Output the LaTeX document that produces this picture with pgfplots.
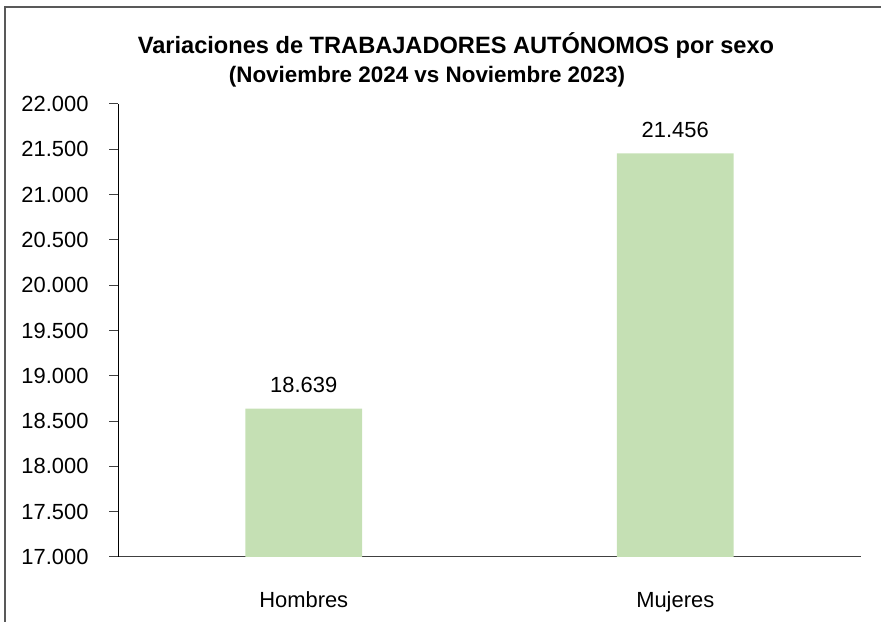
\documentclass[border=0pt]{standalone}
\usepackage{pgfplots}
\pgfplotsset{compat=1.18}
\usepackage{fontspec}
\setmainfont{Liberation Sans}
\definecolor{barg}{HTML}{C5E0B4}
\begin{document}
\begin{tikzpicture}[x=1bp,y=1bp]
\begin{axis}[
  at={(118bp,65bp)}, anchor=south west,
  scale only axis, width=743bp, height=453bp,
  xmin=-0.5, xmax=1.5, ymin=17000, ymax=22000,
  ytick={17000,17500,...,22000},
  xtick={0,1}, xticklabels={Hombres,Mujeres},
  axis x line*=bottom, axis y line*=left,
  axis line style={draw=black!75, line width=1bp},
  y axis line style={draw=black, line width=1bp},
  tick align=outside, major tick length=9bp,
  xtick style={draw=none},
  ytick style={draw=black!75, line width=1bp},
  scaled y ticks=false,
  /pgf/number format/assume math mode=true,
  yticklabel={\pgfmathprintnumber[fixed,precision=0,1000 sep={.}]{\tick}},
  yticklabel style={font=\fontsize{22}{26}\selectfont, xshift=-17bp},
  xticklabel style={font=\fontsize{22}{26}\selectfont, anchor=base, yshift=-42bp},
  ybar, bar width=116.7bp,
  nodes near coords={\pgfmathprintnumber[fixed,precision=0,1000 sep={.}]{\pgfplotspointmeta}},
  every node near coord/.append style={font=\fontsize{22}{26}\selectfont, anchor=base, yshift=16bp, text=black},
]
\addplot[fill=barg, draw=none] coordinates {(0,18639) (1,21456)};
\end{axis}
\node[anchor=base, font=\bfseries\fontsize{23.7}{28}\selectfont] at (456,568) {Variaciones de TRABAJADORES AUTÓNOMOS por sexo};
\node[anchor=base, font=\bfseries\fontsize{22.5}{27}\selectfont] at (427,539) {(Noviembre 2024 vs Noviembre 2023)};
\draw[black!65, line width=1.3bp] (5,0) -- (5,615) -- (881,615);
\pgfresetboundingbox
\path (0,0) rectangle (881,622);
\end{tikzpicture}
\end{document}
